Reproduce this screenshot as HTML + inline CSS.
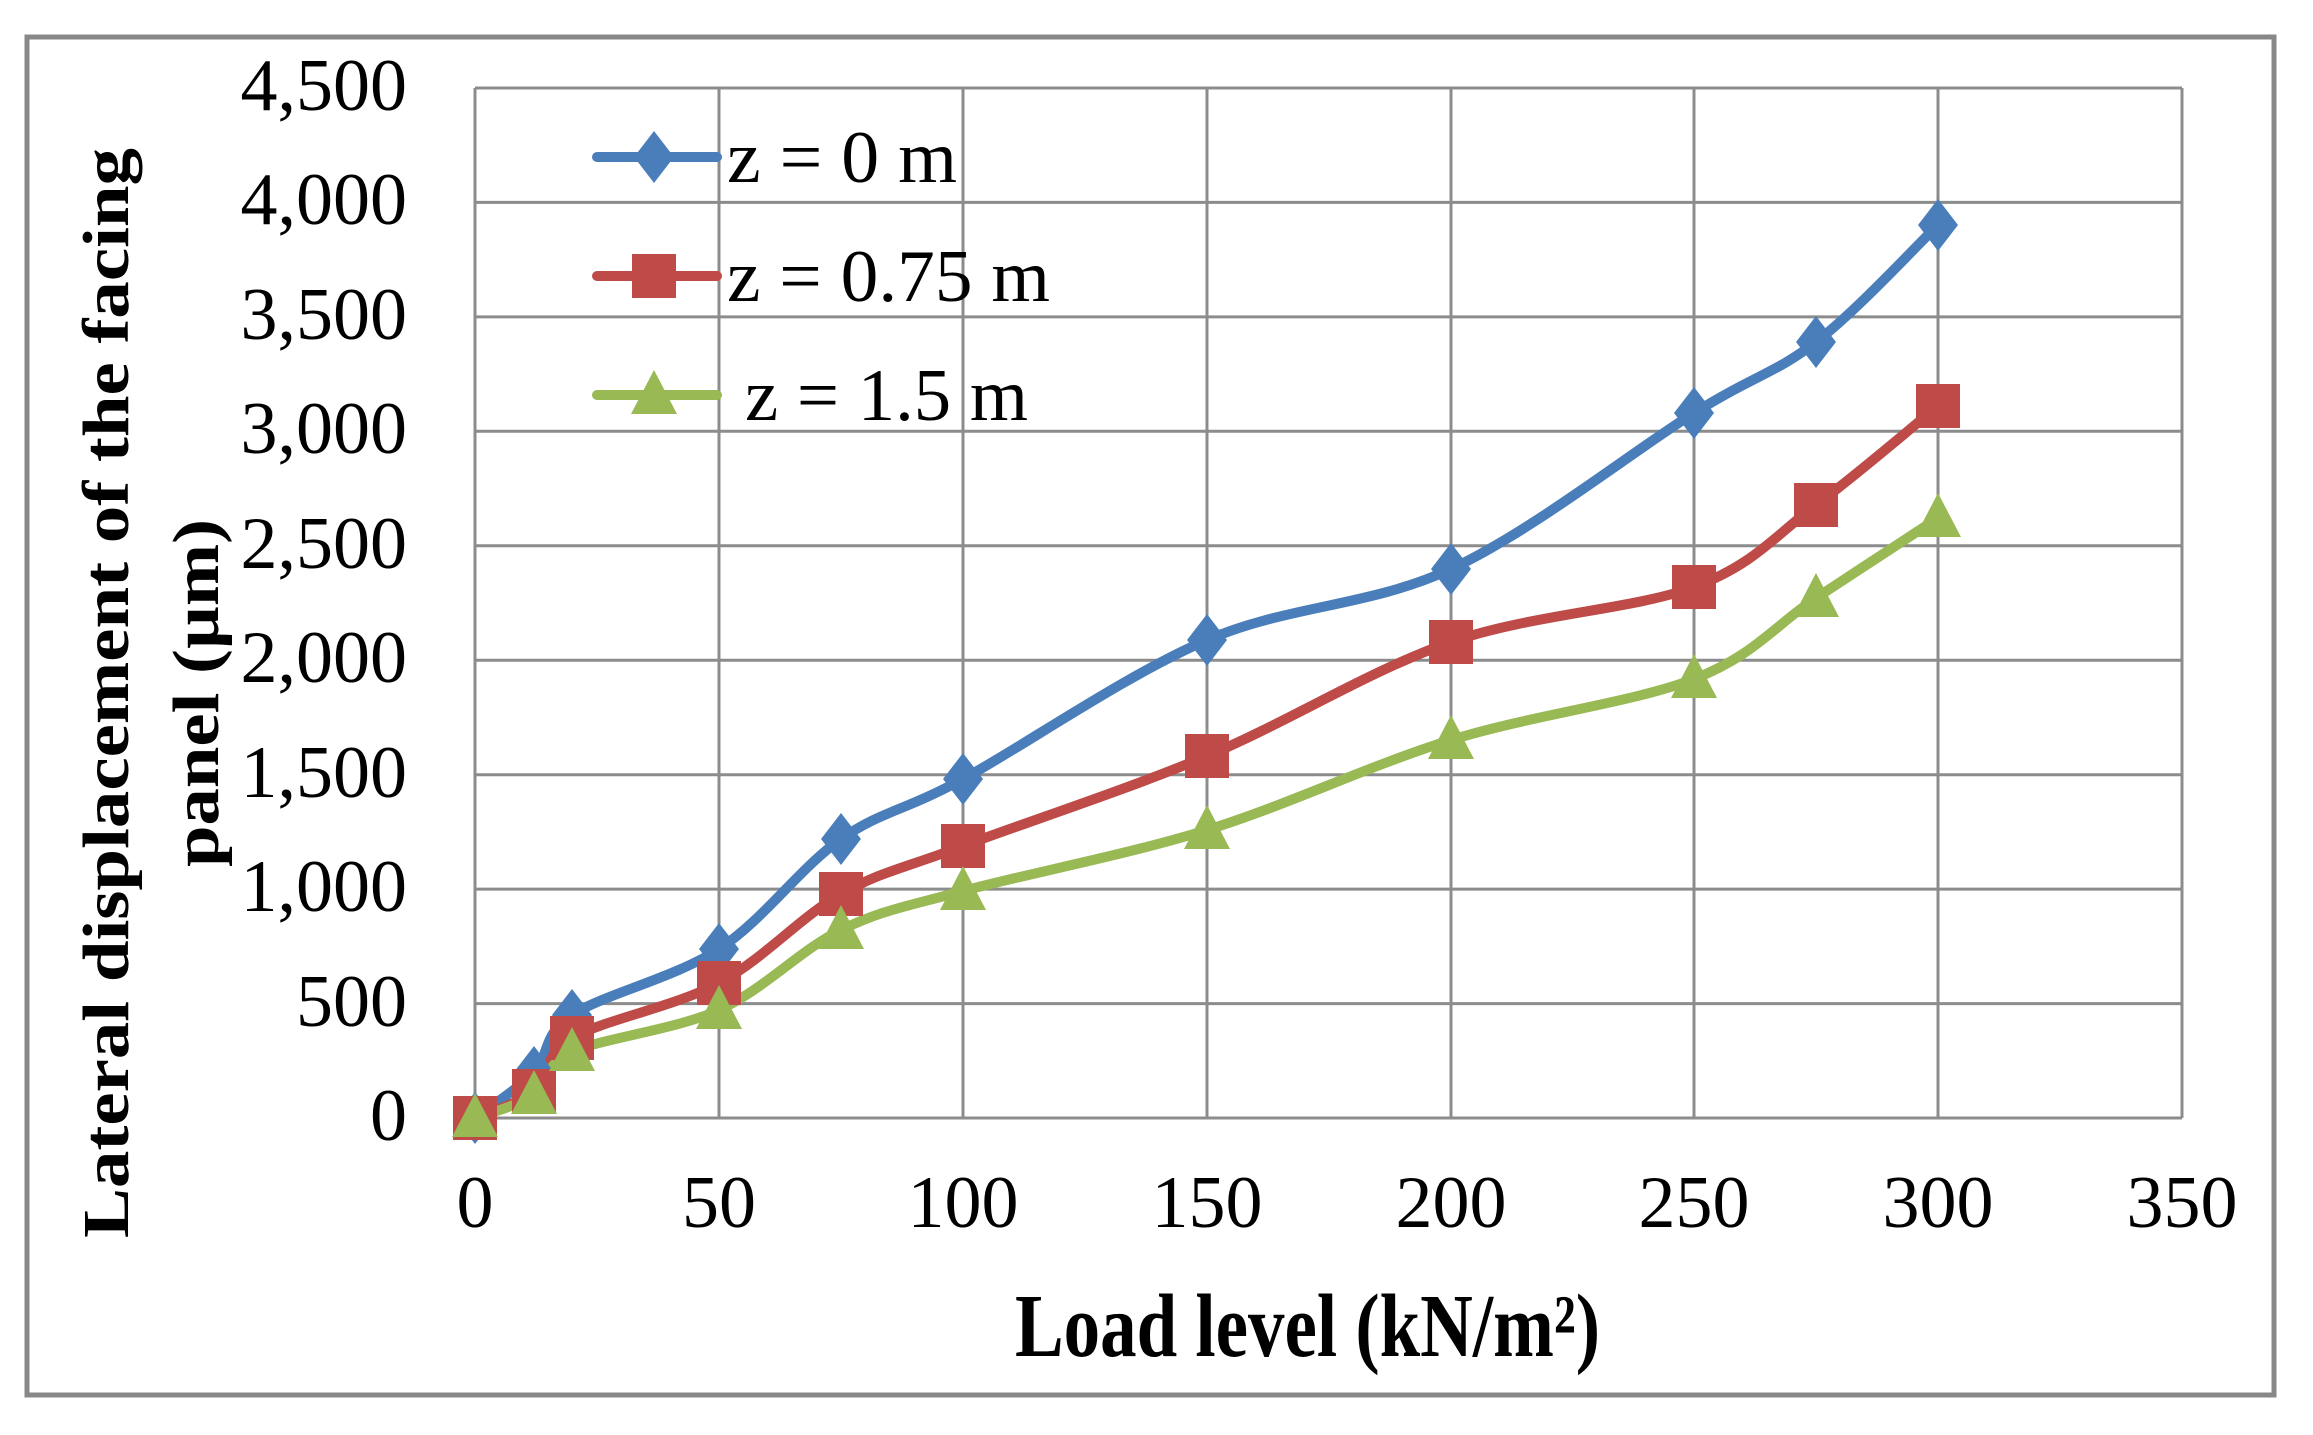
<!DOCTYPE html>
<html><head><meta charset="utf-8"><style>html,body{margin:0;padding:0;background:#fff}svg{display:block}</style></head>
<body>
<svg width="2313" height="1435" viewBox="0 0 2313 1435" xmlns="http://www.w3.org/2000/svg" font-family="Liberation Serif, serif">
<rect x="0" y="0" width="2313" height="1435" fill="#fff"/>
<rect x="27" y="37" width="2247" height="1358" fill="none" stroke="#888" stroke-width="5"/>
<g stroke="#8c8c8c" stroke-width="3" fill="none">
<line x1="475" y1="88" x2="475" y2="1118"/>
<line x1="719" y1="88" x2="719" y2="1118"/>
<line x1="963" y1="88" x2="963" y2="1118"/>
<line x1="1207" y1="88" x2="1207" y2="1118"/>
<line x1="1451" y1="88" x2="1451" y2="1118"/>
<line x1="1694" y1="88" x2="1694" y2="1118"/>
<line x1="1938" y1="88" x2="1938" y2="1118"/>
<line x1="2182" y1="88" x2="2182" y2="1118"/>
<line x1="475" y1="88" x2="2182" y2="88"/>
<line x1="475" y1="202.4" x2="2182" y2="202.4"/>
<line x1="475" y1="316.9" x2="2182" y2="316.9"/>
<line x1="475" y1="431.3" x2="2182" y2="431.3"/>
<line x1="475" y1="545.8" x2="2182" y2="545.8"/>
<line x1="475" y1="660.2" x2="2182" y2="660.2"/>
<line x1="475" y1="774.7" x2="2182" y2="774.7"/>
<line x1="475" y1="889.1" x2="2182" y2="889.1"/>
<line x1="475" y1="1003.6" x2="2182" y2="1003.6"/>
<line x1="475" y1="1118" x2="2182" y2="1118"/>
</g>
<g font-size="74" fill="#000" text-anchor="end">
<text x="407" y="110">4,500</text>
<text x="407" y="224">4,000</text>
<text x="407" y="339">3,500</text>
<text x="407" y="453">3,000</text>
<text x="407" y="568">2,500</text>
<text x="407" y="682">2,000</text>
<text x="407" y="797">1,500</text>
<text x="407" y="911">1,000</text>
<text x="407" y="1026">500</text>
<text x="407" y="1140">0</text>
</g>
<g font-size="74" fill="#000" text-anchor="middle">
<text x="475" y="1227">0</text>
<text x="719" y="1227">50</text>
<text x="963" y="1227">100</text>
<text x="1207" y="1227">150</text>
<text x="1451" y="1227">200</text>
<text x="1694" y="1227">250</text>
<text x="1938" y="1227">300</text>
<text x="2182" y="1227">350</text>
</g>
<text x="1015" y="1356" font-size="90" font-weight="bold" textLength="585" lengthAdjust="spacingAndGlyphs">Load level (kN/m²)</text>
<g font-weight="bold" font-size="66" text-anchor="middle">
<text transform="translate(128,693) rotate(-90)" textLength="1090" lengthAdjust="spacingAndGlyphs">Lateral displacement of the facing</text>
<text transform="translate(218,693) rotate(-90)" textLength="348" lengthAdjust="spacingAndGlyphs">panel (µm)</text>
</g>
<g fill="none" stroke-width="10" stroke-linejoin="round" stroke-linecap="round">
<path stroke="#4a7ebb" d="M475,1118 C484.8,1110.3 517.8,1089.2 534,1072 C550.2,1054.8 541.2,1035.5 572,1015 C602.8,994.5 674.2,978.3 719,949 C763.8,919.7 800.3,867.3 841,839 C881.7,810.7 902,812.2 963,779 C1024,745.8 1125.7,675 1207,640 C1288.3,605 1369.8,606.8 1451,569 C1532.2,531.2 1633.2,450.8 1694,413 C1754.8,375.2 1775.3,373.3 1816,342 C1856.7,310.7 1917.7,244.5 1938,225"/>
<path stroke="#be4b48" d="M475,1118 C484.8,1113.5 517.8,1104.3 534,1091 C550.2,1077.7 541.2,1056 572,1038 C602.8,1020 674.2,1007 719,983 C763.8,959 800.3,916.8 841,894 C881.7,871.2 902,869 963,846 C1024,823 1125.7,790 1207,756 C1288.3,722 1369.8,670.2 1451,642 C1532.2,613.8 1633.2,609.8 1694,587 C1754.8,564.2 1775.3,535.2 1816,505 C1856.7,474.8 1917.7,422.5 1938,406"/>
<path stroke="#98b954" d="M475,1118 C484.8,1114.2 517.8,1106 534,1095 C550.2,1084 541.2,1066.2 572,1052 C602.8,1037.8 674.2,1030.3 719,1010 C763.8,989.7 800.3,949.8 841,930 C881.7,910.2 902,907.7 963,891 C1024,874.3 1125.7,855.2 1207,830 C1288.3,804.8 1369.8,765.2 1451,740 C1532.2,714.8 1633.2,702.7 1694,679 C1754.8,655.3 1775.3,624.8 1816,598 C1856.7,571.2 1917.7,531.3 1938,518"/>
</g>
<g fill="#4a7ebb">
<path d="M475,1092 l20,26 l-20,26 l-20,-26z"/><path d="M534,1046 l20,26 l-20,26 l-20,-26z"/><path d="M572,989 l20,26 l-20,26 l-20,-26z"/><path d="M719,923 l20,26 l-20,26 l-20,-26z"/><path d="M841,813 l20,26 l-20,26 l-20,-26z"/><path d="M963,753 l20,26 l-20,26 l-20,-26z"/><path d="M1207,614 l20,26 l-20,26 l-20,-26z"/><path d="M1451,543 l20,26 l-20,26 l-20,-26z"/><path d="M1694,387 l20,26 l-20,26 l-20,-26z"/><path d="M1816,316 l20,26 l-20,26 l-20,-26z"/><path d="M1938,199 l20,26 l-20,26 l-20,-26z"/>
</g>
<g fill="#be4b48">
<rect x="453" y="1096" width="44" height="44"/><rect x="512" y="1069" width="44" height="44"/><rect x="550" y="1016" width="44" height="44"/><rect x="697" y="961" width="44" height="44"/><rect x="819" y="872" width="44" height="44"/><rect x="941" y="824" width="44" height="44"/><rect x="1185" y="734" width="44" height="44"/><rect x="1429" y="620" width="44" height="44"/><rect x="1672" y="565" width="44" height="44"/><rect x="1794" y="483" width="44" height="44"/><rect x="1916" y="384" width="44" height="44"/>
</g>
<g fill="#98b954">
<path d="M475,1093 l23,44 h-46z"/><path d="M534,1070 l23,44 h-46z"/><path d="M572,1027 l23,44 h-46z"/><path d="M719,985 l23,44 h-46z"/><path d="M841,905 l23,44 h-46z"/><path d="M963,866 l23,44 h-46z"/><path d="M1207,805 l23,44 h-46z"/><path d="M1451,715 l23,44 h-46z"/><path d="M1694,654 l23,44 h-46z"/><path d="M1816,573 l23,44 h-46z"/><path d="M1938,493 l23,44 h-46z"/>
</g>
<g stroke-width="10" stroke-linecap="round">
<line x1="597" y1="157" x2="717" y2="157" stroke="#4a7ebb"/>
<line x1="597" y1="276" x2="717" y2="276" stroke="#be4b48"/>
<line x1="597" y1="395" x2="717" y2="395" stroke="#98b954"/>
</g>
<path d="M654,131 l20,26 l-20,26 l-20,-26z" fill="#4a7ebb"/>
<rect x="632" y="254" width="44" height="44" fill="#be4b48"/>
<path d="M654,370 l23,44 h-46z" fill="#98b954"/>
<g font-size="74" fill="#000">
<text x="727" y="182" textLength="230" lengthAdjust="spacingAndGlyphs">z = 0 m</text>
<text x="727" y="301" textLength="323" lengthAdjust="spacingAndGlyphs">z = 0.75 m</text>
<text x="745" y="420" textLength="283" lengthAdjust="spacingAndGlyphs">z = 1.5 m</text>
</g>
</svg>
</body></html>
